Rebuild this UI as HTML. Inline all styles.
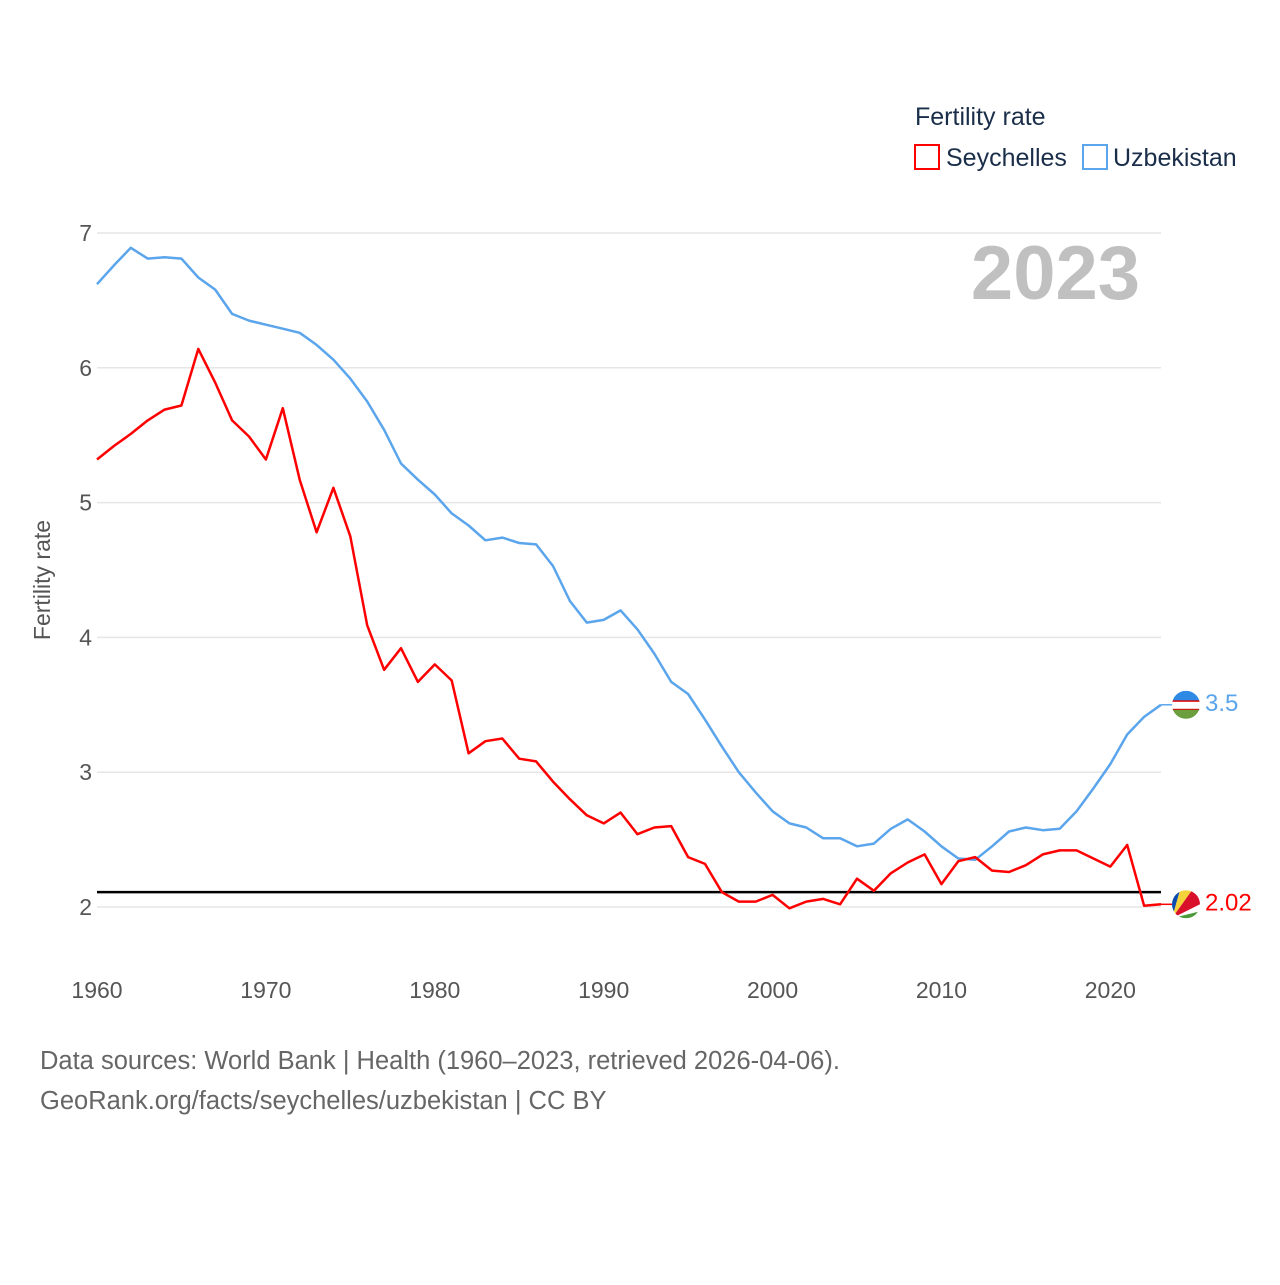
<!DOCTYPE html>
<html><head><meta charset="utf-8">
<style>
body{margin:0;background:#fff;}
svg text{font-family:"Liberation Sans",sans-serif;}
</style></head>
<body>
<svg id="chart" width="1280" height="1280" viewBox="0 0 1280 1280" xmlns="http://www.w3.org/2000/svg">
<rect width="1280" height="1280" fill="#fff"/>
<g>
<text x="915" y="125" font-size="25" fill="#1a2e4a">Fertility rate</text>
<g>
<rect x="915" y="145" width="24" height="24" fill="none" stroke="#ff0000" stroke-width="2"/>
<text x="946" y="166" font-size="25" fill="#1a2e4a">Seychelles</text></g>
<g>
<rect x="1083" y="145" width="24" height="24" fill="none" stroke="#5aa5ec" stroke-width="2"/>
<text x="1113" y="166" font-size="25" fill="#1a2e4a">Uzbekistan</text></g>
</g>
<g id="grid"></g>
<text x="1140" y="299" font-size="76" font-weight="bold" fill="#c0c0c0" text-anchor="end">2023</text>
<text transform="translate(50,580) rotate(-90)" font-size="23" fill="#555" text-anchor="middle">Fertility rate</text>
<g id="series"></g>
<g>
<text x="40" y="1069" font-size="25.5" fill="#666">Data sources: World Bank | Health (1960–2023, retrieved 2026-04-06).</text>
<text x="40" y="1109" font-size="25.5" fill="#666">GeoRank.org/facts/seychelles/uzbekistan | CC BY</text>
</g>
</svg>
<script>
const years = [];
for (let y = 1960; y <= 2023; y++) years.push(y);
const uzbekistan = [6.62,6.76,6.89,6.81,6.82,6.81,6.67,6.58,6.40,6.35,6.32,6.29,6.26,6.17,6.06,5.92,5.75,5.54,5.29,5.17,5.06,4.92,4.83,4.72,4.74,4.70,4.69,4.53,4.27,4.11,4.13,4.20,4.06,3.88,3.67,3.58,3.39,3.19,3.00,2.85,2.71,2.62,2.59,2.51,2.51,2.45,2.47,2.58,2.65,2.56,2.45,2.36,2.35,2.45,2.56,2.59,2.57,2.58,2.71,2.88,3.06,3.28,3.41,3.50];
const seychelles = [5.32,5.42,5.51,5.61,5.69,5.72,6.14,5.89,5.61,5.49,5.32,5.70,5.17,4.78,5.11,4.75,4.09,3.76,3.92,3.67,3.80,3.68,3.14,3.23,3.25,3.10,3.08,2.93,2.80,2.68,2.62,2.70,2.54,2.59,2.60,2.37,2.32,2.11,2.04,2.04,2.09,1.99,2.04,2.06,2.02,2.21,2.12,2.25,2.33,2.39,2.17,2.34,2.37,2.27,2.26,2.31,2.39,2.42,2.42,2.36,2.30,2.46,2.01,2.02];
const yTicks = [2,3,4,5,6,7];
const xTicks = [1960,1970,1980,1990,2000,2010,2020];
const replacementRate = 2.11;

const NS = "http://www.w3.org/2000/svg";
const X0 = 97, X1 = 1161, Y7 = 233, Y2 = 907;
const xs = y => X0 + (y - 1960) * (X1 - X0) / 63;
const ys = v => Y2 - (v - 2) * (Y2 - Y7) / 5;
function mk(tag, attrs, parent){const e=document.createElementNS(NS,tag);for(const k in attrs)e.setAttribute(k,attrs[k]);parent.appendChild(e);return e;}
const grid = document.getElementById('grid');
const series = document.getElementById('series');
yTicks.forEach(t=>{
  const l = mk('line',{x1:X0,x2:X1,y1:ys(t),y2:ys(t),stroke:'#e6e6e6','stroke-width':1.5},grid);
  
  
  const tx = mk('text',{x:92,y:ys(t)+8,'font-size':23,fill:'#555','text-anchor':'end'},grid);
  tx.textContent = t;
  
  
});
xTicks.forEach(t=>{
  const tx = mk('text',{x:xs(t),y:998,'font-size':23,fill:'#555','text-anchor':'middle'},grid);
  tx.textContent = t;
  
  
});
const rl = mk('line',{x1:X0,x2:X1,y1:ys(replacementRate),y2:ys(replacementRate),stroke:'#000','stroke-width':2.5},series);


function drawLine(vals,color,name){
  const d = vals.map((v,i)=>(i?'L':'M')+xs(years[i]).toFixed(1)+','+ys(v).toFixed(1)).join('');
  const p = mk('path',{d:d,fill:'none',stroke:color,'stroke-width':2.5,'stroke-linejoin':'round'},series);
  
  
}
drawLine(uzbekistan,'#5aa5ec','uzbekistan-line');
drawLine(seychelles,'#ff0000','seychelles-line');
function endLabel(vals,color,name,flag){
  const v = vals[vals.length-1], y = ys(v), x = xs(2023);
  mk('line',{x1:x,x2:x+12,y1:y,y2:y,stroke:color,'stroke-width':1.5},series);
  const g = mk('g',{},series);
  
  
  const cx = 1186;
  const clipId = 'clip-'+name;
  const cp = mk('clipPath',{id:clipId},g);
  mk('circle',{cx:cx,cy:y,r:14},cp);
  const fg = mk('g',{'clip-path':'url(#'+clipId+')'},g);
  if(flag==='uz'){
    mk('rect',{x:cx-14,y:y-14,width:28,height:10,fill:'#2f8ae5'},fg);
    mk('rect',{x:cx-14,y:y-4,width:28,height:9,fill:'#fff'},fg);
    mk('rect',{x:cx-14,y:y-4.5,width:28,height:1.5,fill:'#d00'},fg);
    mk('rect',{x:cx-14,y:y+4,width:28,height:1.5,fill:'#d00'},fg);
    mk('rect',{x:cx-14,y:y+5,width:28,height:10,fill:'#6a9e3e'},fg);
  } else {
    mk('rect',{x:cx-14,y:y-14,width:28,height:28,fill:'#fff'},fg);
    mk('polygon',{points:`${cx-14},${y+14} ${cx-14},${y-14} ${cx-6},${y-14}`,fill:'#0a4bb0'},fg);
    mk('polygon',{points:`${cx-14},${y+14} ${cx-6},${y-14} ${cx+6},${y-14}`,fill:'#f5d23a'},fg);
    mk('polygon',{points:`${cx-14},${y+14} ${cx+6},${y-14} ${cx+14},${y-14} ${cx+14},${y}`,fill:'#d8102a'},fg);
    mk('polygon',{points:`${cx-14},${y+14} ${cx+14},${y+7} ${cx+14},${y+14}`,fill:'#4a9a3a'},fg);
  }
  const t = mk('text',{x:1205,y:y+6,'font-size':24,fill:color},series);
  t.textContent = String(v);
  
  
}
endLabel(uzbekistan,'#5aa5ec','uzbekistan','uz');
endLabel(seychelles,'#ff0000','seychelles','sc');
</script>
</body></html>
